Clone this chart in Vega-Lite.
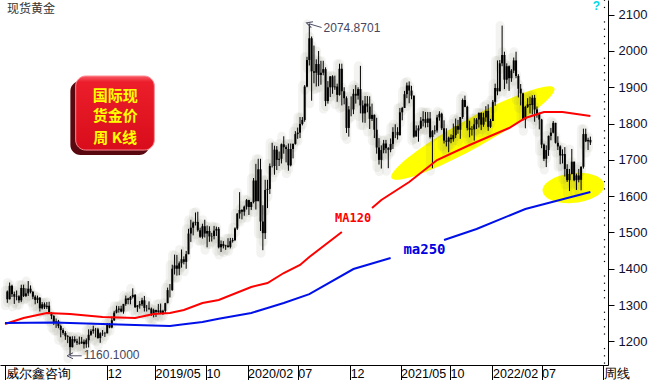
{
  "$schema": "https://vega.github.io/schema/vega-lite/v6.json",
  "width": 608,
  "height": 365,
  "autosize": "none",
  "padding": {"left": 0, "top": 0, "right": 46, "bottom": 15},
  "background": "white",
  "config": {"view": {"stroke": null}, "axis": {"labelOverlap": false, "grid": false}},
  "datasets": {
    "k": [
      {"d":"2018-02-05","o":1337,"h":1340,"l":1306,"c":1316},
      {"d":"2018-02-12","o":1316,"h":1362,"l":1315,"c":1353},
      {"d":"2018-02-19","o":1353,"h":1356,"l":1322,"c":1330},
      {"d":"2018-02-26","o":1330,"h":1337,"l":1303,"c":1323},
      {"d":"2018-03-05","o":1323,"h":1340,"l":1313,"c":1324},
      {"d":"2018-03-12","o":1324,"h":1327,"l":1306,"c":1313},
      {"d":"2018-03-19","o":1313,"h":1356,"l":1308,"c":1347},
      {"d":"2018-03-26","o":1347,"h":1356,"l":1322,"c":1325},
      {"d":"2018-04-02","o":1325,"h":1346,"l":1322,"c":1332},
      {"d":"2018-04-09","o":1332,"h":1366,"l":1325,"c":1345},
      {"d":"2018-04-16","o":1345,"h":1354,"l":1332,"c":1336},
      {"d":"2018-04-23","o":1336,"h":1339,"l":1316,"c":1323},
      {"d":"2018-04-30","o":1323,"h":1327,"l":1302,"c":1314},
      {"d":"2018-05-07","o":1314,"h":1326,"l":1305,"c":1320},
      {"d":"2018-05-14","o":1320,"h":1322,"l":1282,"c":1291},
      {"d":"2018-05-21","o":1291,"h":1308,"l":1288,"c":1302},
      {"d":"2018-05-28","o":1302,"h":1307,"l":1289,"c":1294},
      {"d":"2018-06-04","o":1294,"h":1308,"l":1289,"c":1298},
      {"d":"2018-06-11","o":1298,"h":1309,"l":1276,"c":1279},
      {"d":"2018-06-18","o":1279,"h":1280,"l":1261,"c":1270},
      {"d":"2018-06-25","o":1270,"h":1272,"l":1245,"c":1252},
      {"d":"2018-07-02","o":1252,"h":1263,"l":1237,"c":1255},
      {"d":"2018-07-09","o":1255,"h":1259,"l":1236,"c":1242},
      {"d":"2018-07-16","o":1242,"h":1246,"l":1211,"c":1231},
      {"d":"2018-07-23","o":1231,"h":1236,"l":1218,"c":1223},
      {"d":"2018-07-30","o":1223,"h":1228,"l":1204,"c":1214},
      {"d":"2018-08-06","o":1214,"h":1217,"l":1195,"c":1212},
      {"d":"2018-08-13","o":1212,"h":1214,"l":1160.1,"c":1184},
      {"d":"2018-08-20","o":1184,"h":1214,"l":1183,"c":1206},
      {"d":"2018-08-27","o":1206,"h":1214,"l":1196,"c":1200},
      {"d":"2018-09-03","o":1200,"h":1207,"l":1190,"c":1196},
      {"d":"2018-09-10","o":1196,"h":1213,"l":1191,"c":1194},
      {"d":"2018-09-17","o":1194,"h":1212,"l":1193,"c":1199},
      {"d":"2018-09-24","o":1199,"h":1205,"l":1180,"c":1192},
      {"d":"2018-10-01","o":1192,"h":1208,"l":1182,"c":1203},
      {"d":"2018-10-08","o":1203,"h":1233,"l":1183,"c":1218},
      {"d":"2018-10-15","o":1218,"h":1233,"l":1215,"c":1228},
      {"d":"2018-10-22","o":1228,"h":1243,"l":1221,"c":1233},
      {"d":"2018-10-29","o":1233,"h":1237,"l":1211,"c":1233},
      {"d":"2018-11-05","o":1233,"h":1237,"l":1207,"c":1209},
      {"d":"2018-11-12","o":1209,"h":1225,"l":1196,"c":1222},
      {"d":"2018-11-19","o":1222,"h":1231,"l":1215,"c":1223},
      {"d":"2018-11-26","o":1223,"h":1226,"l":1212,"c":1222},
      {"d":"2018-12-03","o":1222,"h":1250,"l":1222,"c":1248},
      {"d":"2018-12-10","o":1248,"h":1250,"l":1236,"c":1238},
      {"d":"2018-12-17","o":1238,"h":1268,"l":1236,"c":1258},
      {"d":"2018-12-24","o":1258,"h":1284,"l":1256,"c":1279},
      {"d":"2018-12-31","o":1279,"h":1298,"l":1277,"c":1287},
      {"d":"2019-01-07","o":1287,"h":1297,"l":1279,"c":1290},
      {"d":"2019-01-14","o":1290,"h":1298,"l":1280,"c":1282},
      {"d":"2019-01-21","o":1282,"h":1303,"l":1276,"c":1303},
      {"d":"2019-01-28","o":1303,"h":1326,"l":1298,"c":1318},
      {"d":"2019-02-04","o":1318,"h":1320,"l":1302,"c":1314},
      {"d":"2019-02-11","o":1314,"h":1325,"l":1302,"c":1322},
      {"d":"2019-02-18","o":1322,"h":1346,"l":1318,"c":1328},
      {"d":"2019-02-25","o":1328,"h":1330,"l":1292,"c":1294},
      {"d":"2019-03-04","o":1294,"h":1300,"l":1281,"c":1299},
      {"d":"2019-03-11","o":1299,"h":1311,"l":1290,"c":1302},
      {"d":"2019-03-18","o":1302,"h":1320,"l":1297,"c":1313},
      {"d":"2019-03-25","o":1313,"h":1325,"l":1282,"c":1292},
      {"d":"2019-04-01","o":1292,"h":1300,"l":1282,"c":1292},
      {"d":"2019-04-08","o":1292,"h":1310,"l":1286,"c":1290},
      {"d":"2019-04-15","o":1290,"h":1293,"l":1270,"c":1276},
      {"d":"2019-04-22","o":1276,"h":1290,"l":1266,"c":1286},
      {"d":"2019-04-29","o":1286,"h":1287,"l":1267,"c":1281},
      {"d":"2019-05-06","o":1281,"h":1303,"l":1278,"c":1285},
      {"d":"2019-05-13","o":1285,"h":1304,"l":1275,"c":1277},
      {"d":"2019-05-20","o":1277,"h":1287,"l":1273,"c":1284},
      {"d":"2019-05-27","o":1284,"h":1306,"l":1278,"c":1305},
      {"d":"2019-06-03","o":1305,"h":1348,"l":1305,"c":1341},
      {"d":"2019-06-10","o":1341,"h":1358,"l":1321,"c":1341},
      {"d":"2019-06-17","o":1341,"h":1411,"l":1339,"c":1400},
      {"d":"2019-06-24","o":1400,"h":1439,"l":1384,"c":1409},
      {"d":"2019-07-01","o":1409,"h":1438,"l":1381,"c":1400},
      {"d":"2019-07-08","o":1400,"h":1420,"l":1382,"c":1415},
      {"d":"2019-07-15","o":1415,"h":1453,"l":1403,"c":1426},
      {"d":"2019-07-22","o":1426,"h":1434,"l":1412,"c":1419},
      {"d":"2019-07-29","o":1419,"h":1449,"l":1400,"c":1440},
      {"d":"2019-08-05","o":1440,"h":1510,"l":1440,"c":1497},
      {"d":"2019-08-12","o":1497,"h":1535,"l":1474,"c":1513},
      {"d":"2019-08-19","o":1513,"h":1530,"l":1492,"c":1527},
      {"d":"2019-08-26","o":1527,"h":1555,"l":1519,"c":1529},
      {"d":"2019-09-02","o":1529,"h":1557,"l":1502,"c":1506},
      {"d":"2019-09-09","o":1506,"h":1513,"l":1485,"c":1488},
      {"d":"2019-09-16","o":1488,"h":1524,"l":1483,"c":1517},
      {"d":"2019-09-23","o":1517,"h":1535,"l":1486,"c":1497},
      {"d":"2019-09-30","o":1497,"h":1519,"l":1459,"c":1504},
      {"d":"2019-10-07","o":1504,"h":1517,"l":1474,"c":1489},
      {"d":"2019-10-14","o":1489,"h":1499,"l":1475,"c":1490},
      {"d":"2019-10-21","o":1490,"h":1518,"l":1481,"c":1505},
      {"d":"2019-10-28","o":1505,"h":1516,"l":1490,"c":1510},
      {"d":"2019-11-04","o":1510,"h":1515,"l":1456,"c":1459},
      {"d":"2019-11-11","o":1459,"h":1478,"l":1446,"c":1468},
      {"d":"2019-11-18","o":1468,"h":1476,"l":1456,"c":1462},
      {"d":"2019-11-25","o":1462,"h":1466,"l":1452,"c":1464},
      {"d":"2019-12-02","o":1464,"h":1484,"l":1458,"c":1460},
      {"d":"2019-12-09","o":1460,"h":1485,"l":1456,"c":1476},
      {"d":"2019-12-16","o":1476,"h":1485,"l":1472,"c":1479},
      {"d":"2019-12-23","o":1479,"h":1514,"l":1476,"c":1511},
      {"d":"2019-12-30","o":1511,"h":1553,"l":1507,"c":1552},
      {"d":"2020-01-06","o":1552,"h":1611,"l":1538,"c":1562},
      {"d":"2020-01-13","o":1562,"h":1564,"l":1536,"c":1557},
      {"d":"2020-01-20","o":1557,"h":1574,"l":1546,"c":1571},
      {"d":"2020-01-27","o":1571,"h":1592,"l":1563,"c":1589},
      {"d":"2020-02-03","o":1589,"h":1590,"l":1548,"c":1570},
      {"d":"2020-02-10","o":1570,"h":1584,"l":1562,"c":1584},
      {"d":"2020-02-17","o":1584,"h":1650,"l":1580,"c":1643},
      {"d":"2020-02-24","o":1643,"h":1689,"l":1563,"c":1586},
      {"d":"2020-03-02","o":1586,"h":1703,"l":1586,"c":1674},
      {"d":"2020-03-09","o":1674,"h":1703,"l":1504,"c":1530},
      {"d":"2020-03-16","o":1530,"h":1575,"l":1451,"c":1498},
      {"d":"2020-03-23","o":1498,"h":1645,"l":1482,"c":1617},
      {"d":"2020-03-30","o":1617,"h":1645,"l":1567,"c":1620},
      {"d":"2020-04-06","o":1620,"h":1690,"l":1606,"c":1683},
      {"d":"2020-04-13","o":1683,"h":1747,"l":1679,"c":1683},
      {"d":"2020-04-20","o":1683,"h":1739,"l":1659,"c":1728},
      {"d":"2020-04-27","o":1728,"h":1738,"l":1672,"c":1700},
      {"d":"2020-05-04","o":1700,"h":1723,"l":1683,"c":1703},
      {"d":"2020-05-11","o":1703,"h":1745,"l":1690,"c":1743},
      {"d":"2020-05-18","o":1743,"h":1765,"l":1717,"c":1735},
      {"d":"2020-05-25","o":1735,"h":1740,"l":1693,"c":1730},
      {"d":"2020-06-01","o":1730,"h":1745,"l":1670,"c":1685},
      {"d":"2020-06-08","o":1685,"h":1745,"l":1682,"c":1730},
      {"d":"2020-06-15","o":1730,"h":1745,"l":1704,"c":1744},
      {"d":"2020-06-22","o":1744,"h":1779,"l":1742,"c":1771},
      {"d":"2020-06-29","o":1771,"h":1789,"l":1758,"c":1775},
      {"d":"2020-07-06","o":1775,"h":1818,"l":1760,"c":1799},
      {"d":"2020-07-13","o":1799,"h":1818,"l":1795,"c":1810},
      {"d":"2020-07-20","o":1810,"h":1906,"l":1805,"c":1902},
      {"d":"2020-07-27","o":1902,"h":1984,"l":1900,"c":1975},
      {"d":"2020-08-03","o":1975,"h":2074.87,"l":1960,"c":2035},
      {"d":"2020-08-10","o":2035,"h":2040,"l":1863,"c":1944},
      {"d":"2020-08-17","o":1944,"h":2015,"l":1911,"c":1940},
      {"d":"2020-08-24","o":1940,"h":1977,"l":1902,"c":1964},
      {"d":"2020-08-31","o":1964,"h":2000,"l":1903,"c":1934},
      {"d":"2020-09-07","o":1934,"h":1973,"l":1907,"c":1940},
      {"d":"2020-09-14","o":1940,"h":1973,"l":1933,"c":1950},
      {"d":"2020-09-21","o":1950,"h":1955,"l":1848,"c":1862},
      {"d":"2020-09-28","o":1862,"h":1917,"l":1855,"c":1900},
      {"d":"2020-10-05","o":1900,"h":1931,"l":1873,"c":1930},
      {"d":"2020-10-12","o":1930,"h":1933,"l":1882,"c":1900},
      {"d":"2020-10-19","o":1900,"h":1932,"l":1893,"c":1902},
      {"d":"2020-10-26","o":1902,"h":1910,"l":1860,"c":1879},
      {"d":"2020-11-02","o":1879,"h":1965,"l":1877,"c":1951},
      {"d":"2020-11-09","o":1951,"h":1965,"l":1850,"c":1889},
      {"d":"2020-11-16","o":1889,"h":1900,"l":1853,"c":1870},
      {"d":"2020-11-23","o":1870,"h":1875,"l":1774,"c":1788},
      {"d":"2020-11-30","o":1788,"h":1848,"l":1764,"c":1839},
      {"d":"2020-12-07","o":1839,"h":1875,"l":1820,"c":1839},
      {"d":"2020-12-14","o":1839,"h":1895,"l":1826,"c":1882},
      {"d":"2020-12-21","o":1882,"h":1906,"l":1855,"c":1877},
      {"d":"2020-12-28","o":1877,"h":1900,"l":1866,"c":1895},
      {"d":"2021-01-04","o":1895,"h":1959,"l":1828,"c":1850},
      {"d":"2021-01-11","o":1850,"h":1864,"l":1803,"c":1828},
      {"d":"2021-01-18","o":1828,"h":1876,"l":1802,"c":1855},
      {"d":"2021-01-25","o":1855,"h":1876,"l":1831,"c":1847},
      {"d":"2021-02-01","o":1847,"h":1875,"l":1785,"c":1813},
      {"d":"2021-02-08","o":1813,"h":1855,"l":1807,"c":1824},
      {"d":"2021-02-15","o":1824,"h":1825,"l":1760,"c":1783},
      {"d":"2021-02-22","o":1783,"h":1816,"l":1717,"c":1734},
      {"d":"2021-03-01","o":1734,"h":1760,"l":1687,"c":1700},
      {"d":"2021-03-08","o":1700,"h":1740,"l":1676,"c":1727},
      {"d":"2021-03-15","o":1727,"h":1755,"l":1718,"c":1745},
      {"d":"2021-03-22","o":1745,"h":1755,"l":1718,"c":1732},
      {"d":"2021-03-29","o":1732,"h":1735,"l":1677,"c":1728},
      {"d":"2021-04-05","o":1728,"h":1759,"l":1721,"c":1744},
      {"d":"2021-04-12","o":1744,"h":1790,"l":1730,"c":1777},
      {"d":"2021-04-19","o":1777,"h":1798,"l":1760,"c":1777},
      {"d":"2021-04-26","o":1777,"h":1790,"l":1756,"c":1768},
      {"d":"2021-05-03","o":1768,"h":1843,"l":1767,"c":1831},
      {"d":"2021-05-10","o":1831,"h":1846,"l":1809,"c":1843},
      {"d":"2021-05-17","o":1843,"h":1890,"l":1843,"c":1881},
      {"d":"2021-05-24","o":1881,"h":1913,"l":1870,"c":1905},
      {"d":"2021-05-31","o":1905,"h":1916,"l":1856,"c":1891},
      {"d":"2021-06-07","o":1891,"h":1904,"l":1867,"c":1877},
      {"d":"2021-06-14","o":1877,"h":1877,"l":1761,"c":1764},
      {"d":"2021-06-21","o":1764,"h":1795,"l":1765,"c":1781},
      {"d":"2021-06-28","o":1781,"h":1795,"l":1750,"c":1787},
      {"d":"2021-07-05","o":1787,"h":1818,"l":1785,"c":1808},
      {"d":"2021-07-12","o":1808,"h":1834,"l":1792,"c":1812},
      {"d":"2021-07-19","o":1812,"h":1832,"l":1789,"c":1802},
      {"d":"2021-07-26","o":1802,"h":1832,"l":1790,"c":1814},
      {"d":"2021-08-02","o":1814,"h":1832,"l":1759,"c":1763},
      {"d":"2021-08-09","o":1763,"h":1782,"l":1677,"c":1779},
      {"d":"2021-08-16","o":1779,"h":1795,"l":1770,"c":1781},
      {"d":"2021-08-23","o":1781,"h":1824,"l":1775,"c":1817},
      {"d":"2021-08-30","o":1817,"h":1834,"l":1808,"c":1827},
      {"d":"2021-09-06","o":1827,"h":1830,"l":1782,"c":1787},
      {"d":"2021-09-13","o":1787,"h":1809,"l":1745,"c":1753},
      {"d":"2021-09-20","o":1753,"h":1787,"l":1737,"c":1750},
      {"d":"2021-09-27","o":1750,"h":1764,"l":1721,"c":1761},
      {"d":"2021-10-04","o":1761,"h":1770,"l":1746,"c":1757},
      {"d":"2021-10-11","o":1757,"h":1800,"l":1750,"c":1768},
      {"d":"2021-10-18","o":1768,"h":1814,"l":1760,"c":1793},
      {"d":"2021-10-25","o":1793,"h":1810,"l":1772,"c":1783},
      {"d":"2021-11-01","o":1783,"h":1818,"l":1758,"c":1818},
      {"d":"2021-11-08","o":1818,"h":1869,"l":1813,"c":1865},
      {"d":"2021-11-15","o":1865,"h":1877,"l":1845,"c":1846},
      {"d":"2021-11-22","o":1846,"h":1849,"l":1781,"c":1788},
      {"d":"2021-11-29","o":1788,"h":1808,"l":1762,"c":1783},
      {"d":"2021-12-06","o":1783,"h":1793,"l":1767,"c":1784},
      {"d":"2021-12-13","o":1784,"h":1815,"l":1753,"c":1798},
      {"d":"2021-12-20","o":1798,"h":1815,"l":1785,"c":1811},
      {"d":"2021-12-27","o":1811,"h":1831,"l":1789,"c":1829},
      {"d":"2022-01-03","o":1829,"h":1831,"l":1782,"c":1797},
      {"d":"2022-01-10","o":1797,"h":1830,"l":1791,"c":1817},
      {"d":"2022-01-17","o":1817,"h":1848,"l":1805,"c":1835},
      {"d":"2022-01-24","o":1835,"h":1853,"l":1780,"c":1791},
      {"d":"2022-01-31","o":1791,"h":1813,"l":1788,"c":1807},
      {"d":"2022-02-07","o":1807,"h":1865,"l":1807,"c":1860},
      {"d":"2022-02-14","o":1860,"h":1910,"l":1849,"c":1898},
      {"d":"2022-02-21","o":1898,"h":1974,"l":1878,"c":1889},
      {"d":"2022-02-28","o":1889,"h":1975,"l":1889,"c":1966},
      {"d":"2022-03-07","o":1966,"h":2070,"l":1958,"c":1989},
      {"d":"2022-03-14","o":1989,"h":1998,"l":1895,"c":1921},
      {"d":"2022-03-21","o":1921,"h":1966,"l":1910,"c":1958},
      {"d":"2022-03-28","o":1958,"h":1960,"l":1890,"c":1925},
      {"d":"2022-04-04","o":1925,"h":1950,"l":1915,"c":1946},
      {"d":"2022-04-11","o":1946,"h":1982,"l":1939,"c":1974},
      {"d":"2022-04-18","o":1974,"h":1998,"l":1925,"c":1931},
      {"d":"2022-04-25","o":1931,"h":1936,"l":1872,"c":1896},
      {"d":"2022-05-02","o":1896,"h":1909,"l":1850,"c":1883},
      {"d":"2022-05-09","o":1883,"h":1885,"l":1808,"c":1811},
      {"d":"2022-05-16","o":1811,"h":1849,"l":1787,"c":1846},
      {"d":"2022-05-23","o":1846,"h":1870,"l":1843,"c":1853},
      {"d":"2022-05-30","o":1853,"h":1874,"l":1828,"c":1851},
      {"d":"2022-06-06","o":1851,"h":1878,"l":1825,"c":1871},
      {"d":"2022-06-13","o":1871,"h":1879,"l":1805,"c":1839},
      {"d":"2022-06-20","o":1839,"h":1847,"l":1816,"c":1826},
      {"d":"2022-06-27","o":1826,"h":1830,"l":1784,"c":1811},
      {"d":"2022-07-04","o":1811,"h":1813,"l":1732,"c":1742},
      {"d":"2022-07-11","o":1742,"h":1745,"l":1697,"c":1703},
      {"d":"2022-07-18","o":1703,"h":1740,"l":1680,"c":1727},
      {"d":"2022-07-25","o":1727,"h":1767,"l":1711,"c":1766},
      {"d":"2022-08-01","o":1766,"h":1788,"l":1754,"c":1775},
      {"d":"2022-08-08","o":1775,"h":1807,"l":1773,"c":1802},
      {"d":"2022-08-15","o":1802,"h":1802,"l":1745,"c":1747},
      {"d":"2022-08-22","o":1747,"h":1765,"l":1727,"c":1737},
      {"d":"2022-08-29","o":1737,"h":1740,"l":1688,"c":1712},
      {"d":"2022-09-05","o":1712,"h":1729,"l":1690,"c":1716},
      {"d":"2022-09-12","o":1716,"h":1735,"l":1654,"c":1675},
      {"d":"2022-09-19","o":1675,"h":1688,"l":1639,"c":1644},
      {"d":"2022-09-26","o":1644,"h":1675,"l":1614,"c":1661},
      {"d":"2022-10-03","o":1661,"h":1730,"l":1660,"c":1695},
      {"d":"2022-10-10","o":1695,"h":1695,"l":1641,"c":1644},
      {"d":"2022-10-17","o":1644,"h":1662,"l":1617,"c":1657},
      {"d":"2022-10-24","o":1657,"h":1675,"l":1638,"c":1645},
      {"d":"2022-10-31","o":1645,"h":1682,"l":1616,"c":1681},
      {"d":"2022-11-07","o":1681,"h":1786,"l":1676,"c":1771},
      {"d":"2022-11-14","o":1771,"h":1786,"l":1749,"c":1751},
      {"d":"2022-11-21","o":1751,"h":1761,"l":1727,"c":1755},
      {"d":"2022-11-28","o":1755,"h":1764,"l":1741,"c":1748}
    ],
    "ma": [
      {"d":"2018-01-29","v":1247.7,"line":"MA120","seg":"r1"},
      {"d":"2018-03-26","v":1264.2,"line":"MA120","seg":"r1"},
      {"d":"2018-06-04","v":1278.0,"line":"MA120","seg":"r1"},
      {"d":"2018-08-13","v":1275.2,"line":"MA120","seg":"r1"},
      {"d":"2018-11-19","v":1267.0,"line":"MA120","seg":"r1"},
      {"d":"2019-02-25","v":1264.2,"line":"MA120","seg":"r1"},
      {"d":"2019-04-22","v":1275.2,"line":"MA120","seg":"r1"},
      {"d":"2019-06-10","v":1278.0,"line":"MA120","seg":"r1"},
      {"d":"2019-07-22","v":1286.3,"line":"MA120","seg":"r1"},
      {"d":"2019-09-16","v":1305.5,"line":"MA120","seg":"r1"},
      {"d":"2019-11-04","v":1313.8,"line":"MA120","seg":"r1"},
      {"d":"2020-02-10","v":1349.6,"line":"MA120","seg":"r1"},
      {"d":"2020-03-30","v":1360.7,"line":"MA120","seg":"r1"},
      {"d":"2020-05-18","v":1388.2,"line":"MA120","seg":"r1"},
      {"d":"2020-07-06","v":1410.3,"line":"MA120","seg":"r1"},
      {"d":"2020-08-03","v":1432.3,"line":"MA120","seg":"r1"},
      {"d":"2020-11-09","v":1501.2,"line":"MA120","seg":"r1"},
      {"d":"2021-02-08","v":1567.3,"line":"MA120","seg":"r2"},
      {"d":"2021-03-08","v":1589.4,"line":"MA120","seg":"r2"},
      {"d":"2021-05-31","v":1639.0,"line":"MA120","seg":"r2"},
      {"d":"2021-08-23","v":1699.6,"line":"MA120","seg":"r2"},
      {"d":"2021-11-29","v":1741.0,"line":"MA120","seg":"r2"},
      {"d":"2022-02-21","v":1774.0,"line":"MA120","seg":"r2"},
      {"d":"2022-03-28","v":1787.8,"line":"MA120","seg":"r2"},
      {"d":"2022-05-16","v":1815.3,"line":"MA120","seg":"r2"},
      {"d":"2022-07-11","v":1831.9,"line":"MA120","seg":"r2"},
      {"d":"2022-09-05","v":1831.9,"line":"MA120","seg":"r2"},
      {"d":"2022-11-28","v":1820.9,"line":"MA120","seg":"r2"},
      {"d":"2018-01-29","v":1250.4,"line":"MA250","seg":"b1"},
      {"d":"2018-06-25","v":1252.0,"line":"MA250","seg":"b1"},
      {"d":"2018-11-19","v":1247.7,"line":"MA250","seg":"b1"},
      {"d":"2019-02-25","v":1244.9,"line":"MA250","seg":"b1"},
      {"d":"2019-06-10","v":1242.2,"line":"MA250","seg":"b1"},
      {"d":"2019-07-22","v":1247.0,"line":"MA250","seg":"b1"},
      {"d":"2019-09-16","v":1253.0,"line":"MA250","seg":"b1"},
      {"d":"2019-11-04","v":1262.0,"line":"MA250","seg":"b1"},
      {"d":"2020-02-10","v":1278.0,"line":"MA250","seg":"b1"},
      {"d":"2020-03-30","v":1291.8,"line":"MA250","seg":"b1"},
      {"d":"2020-05-18","v":1305.5,"line":"MA250","seg":"b1"},
      {"d":"2020-08-03","v":1330.0,"line":"MA250","seg":"b1"},
      {"d":"2020-12-14","v":1399.2,"line":"MA250","seg":"b1"},
      {"d":"2021-04-05","v":1429.6,"line":"MA250","seg":"b1"},
      {"d":"2021-09-13","v":1479.2,"line":"MA250","seg":"b2"},
      {"d":"2021-12-20","v":1509.5,"line":"MA250","seg":"b2"},
      {"d":"2022-05-16","v":1564.6,"line":"MA250","seg":"b2"},
      {"d":"2022-11-28","v":1611.4,"line":"MA250","seg":"b2"}
    ],
    "minor": [
      {"v":1140},{"v":1160},{"v":1180},{"v":1220},{"v":1240},{"v":1260},{"v":1280},
      {"v":1320},{"v":1340},{"v":1360},{"v":1380},{"v":1420},{"v":1440},{"v":1460},{"v":1480},
      {"v":1520},{"v":1540},{"v":1560},{"v":1580},{"v":1620},{"v":1640},{"v":1660},{"v":1680},
      {"v":1720},{"v":1740},{"v":1760},{"v":1780},{"v":1820},{"v":1840},{"v":1860},{"v":1880},
      {"v":1920},{"v":1940},{"v":1960},{"v":1980},{"v":2020},{"v":2040},{"v":2060},{"v":2080},
      {"v":2120},{"v":2140}
    ]
  },
  "layer": [
    {
      "data": {"values": [{"d":"2021-12-09","v":1774.0}]},
      "mark": {"type":"point","filled":true,"color":"#ffff00","opacity":1,"size":34596,"angle":331,
        "shape":"M-1,0C-1,-0.0862,-0.5523,-0.156,0,-0.156C0.5523,-0.156,1,-0.0862,1,0C1,0.0862,0.5523,0.156,0,0.156C-0.5523,0.156,-1,0.0862,-1,0Z"},
      "encoding": {
        "x": {"field":"d","type":"temporal","title":null,"scale":{"domain":[{"year":2018,"month":1,"date":29,"utc":true},{"year":2023,"month":1,"date":5,"utc":true}]}},
        "y": {"field":"v","type":"quantitative","title":null,"scale":{"domain":[1134.7,2140.5],"nice":false,"zero":false}}
      }
    },
    {
      "data": {"values": [{"d":"2022-10-08","v":1622.4}]},
      "mark": {"type":"point","filled":true,"color":"#ffff00","opacity":1,"size":3844,"angle":354,
        "shape":"M-1,0C-1,-0.2651,-0.5523,-0.48,0,-0.48C0.5523,-0.48,1,-0.2651,1,0C1,0.2651,0.5523,0.48,0,0.48C-0.5523,0.48,-1,0.2651,-1,0Z"},
      "encoding": {
        "x": {"field":"d","type":"temporal","title":null},
        "y": {"field":"v","type":"quantitative","title":null}
      }
    },
    {
      "data": {"name": "k"},
      "mark": {"type":"rule","color":"#7a7a68","strokeWidth":9,"strokeCap":"round","opacity":0.09,"xOffset":-2,"yOffset":3},
      "encoding": {
        "x": {"field":"d","type":"temporal","title":null},
        "y": {"field":"l","type":"quantitative","title":null},
        "y2": {"field":"h"}
      }
    },
    {
      "data": {"name": "k"},
      "mark": {"type":"rule","color":"#000000","strokeWidth":1},
      "encoding": {
        "x": {"field":"d","type":"temporal","title":null,
          "axis": {
            "values": [
              {"year":2018,"month":1,"date":29,"utc":true},
              {"year":2018,"month":12,"date":3,"utc":true},
              {"year":2019,"month":4,"date":26,"utc":true},
              {"year":2019,"month":9,"date":27,"utc":true},
              {"year":2020,"month":1,"date":30,"utc":true},
              {"year":2020,"month":6,"date":29,"utc":true},
              {"year":2020,"month":12,"date":4,"utc":true},
              {"year":2021,"month":5,"date":5,"utc":true},
              {"year":2021,"month":10,"date":1,"utc":true},
              {"year":2022,"month":2,"date":6,"utc":true},
              {"year":2022,"month":7,"date":4,"utc":true},
              {"year":2023,"month":1,"date":5,"utc":true}
            ],
            "labelExpr": "({'2018-01-29':'威尔鑫咨询','2018-12-03':'12','2019-04-26':'2019/05','2019-09-27':'10','2020-01-30':'2020/02','2020-06-29':'07','2020-12-04':'12','2021-05-05':'2021/05','2021-10-01':'10','2022-02-06':'2022/02','2022-07-04':'07','2023-01-05':'周线'})[utcFormat(datum.value,'%Y-%m-%d')]",
            "tickSize": 15, "tickColor": "#000000", "tickWidth": 1,
            "domainColor": "#000000", "domainWidth": 1,
            "labelAlign": "left", "labelBaseline": "top", "labelPadding": -13, "labelDx": 2,
            "labelFont": "Liberation Sans", "labelFontSize": 12.5, "labelColor": "#000000",
            "labelOverlap": false, "labelFlush": false, "grid": false
          }
        },
        "y": {"field":"l","type":"quantitative","title":null,
          "axis": {
            "orient": "right",
            "values": [1200,1300,1400,1500,1600,1700,1800,1900,2000,2100],
            "format": "d",
            "tickSize": 6, "tickColor": "#000000",
            "domainColor": "#000000",
            "labelPadding": 4, "labelFont": "Liberation Sans", "labelFontSize": 13, "labelColor": "#101030",
            "labelOverlap": false, "labelFlush": false, "grid": false
          }
        },
        "y2": {"field":"h"}
      }
    },
    {
      "data": {"name": "k"},
      "mark": {"type":"bar","color":"#000000","width":2},
      "encoding": {
        "x": {"field":"d","type":"temporal","title":null},
        "y": {"field":"o","type":"quantitative","title":null},
        "y2": {"field":"c"}
      }
    },
    {
      "data": {"name": "minor"},
      "mark": {"type":"square","color":"#000000","size":1.5,"opacity":1,"xOffset":1.5},
      "encoding": {
        "x": {"datum": {"year":2023,"month":1,"date":5,"utc":true},"type":"temporal"},
        "y": {"field":"v","type":"quantitative","title":null}
      }
    },
    {
      "data": {"name": "ma"},
      "mark": {"type":"line","strokeWidth":2},
      "encoding": {
        "x": {"field":"d","type":"temporal","title":null},
        "y": {"field":"v","type":"quantitative","title":null},
        "color": {"field":"line","type":"nominal","legend":null,"scale":{"domain":["MA120","MA250"],"range":["#ff0000","#0010e8"]}},
        "detail": {"field":"seg"}
      }
    },
    {
      "data": {"values": [{"d":"2020-12-13","v":1540.6,"t":"MA120"}]},
      "mark": {"type":"text","color":"#ff0000","font":"DejaVu Sans Mono","fontWeight":"bold","fontSize":12,"align":"center","baseline":"middle"},
      "encoding": {
        "x": {"field":"d","type":"temporal","title":null},
        "y": {"field":"v","type":"quantitative","title":null},
        "text": {"field":"t"}
      }
    },
    {
      "data": {"values": [{"d":"2021-07-16","v":1451.6,"t":"ma250"}]},
      "mark": {"type":"text","color":"#0000e0","font":"DejaVu Sans Mono","fontWeight":"bold","fontSize":14,"align":"center","baseline":"middle"},
      "encoding": {
        "x": {"field":"d","type":"temporal","title":null},
        "y": {"field":"v","type":"quantitative","title":null},
        "text": {"field":"t"}
      }
    },
    {
      "data": {"values": [
        {"d":"2020-08-03","v":2074.87,"d2":"2020-09-09","v2":2064.7},
        {"d":"2018-08-13","v":1160.1,"d2":"2018-09-17","v2":1160.1}
      ]},
      "mark": {"type":"rule","color":"#505068","strokeWidth":1},
      "encoding": {
        "x": {"field":"d","type":"temporal","title":null},
        "x2": {"field":"d2"},
        "y": {"field":"v","type":"quantitative","title":null},
        "y2": {"field":"v2"}
      }
    },
    {
      "data": {"values": [{"d":"2020-08-03","v":2074.87}]},
      "mark": {"type":"point","shape":"M1,-1L-1,0L1,1","filled":false,"color":"#505068","strokeWidth":1,"size":36,"angle":17,"opacity":1},
      "encoding": {
        "x": {"field":"d","type":"temporal","title":null},
        "y": {"field":"v","type":"quantitative","title":null}
      }
    },
    {
      "data": {"values": [{"d":"2018-08-13","v":1160.1}]},
      "mark": {"type":"point","shape":"M1,-1L-1,0L1,1","filled":false,"color":"#505068","strokeWidth":1,"size":36,"angle":0,"opacity":1},
      "encoding": {
        "x": {"field":"d","type":"temporal","title":null},
        "y": {"field":"v","type":"quantitative","title":null}
      }
    },
    {
      "data": {"values": [
        {"d":"2020-09-15","v":2063.3,"t":"2074.8701"},
        {"d":"2018-09-23","v":1161.0,"t":"1160.1000"}
      ]},
      "mark": {"type":"text","color":"#46465e","font":"Liberation Sans","fontSize":12,"align":"left","baseline":"middle"},
      "encoding": {
        "x": {"field":"d","type":"temporal","title":null},
        "y": {"field":"v","type":"quantitative","title":null},
        "text": {"field":"t"}
      }
    },
    {
      "data": {"values": [{"d":"2018-02-04","v":2117,"t":"现货黄金"}]},
      "mark": {"type":"text","color":"#333333","font":"Noto Sans CJK SC","fontSize":12,"align":"left","baseline":"middle"},
      "encoding": {
        "x": {"field":"d","type":"temporal","title":null},
        "y": {"field":"v","type":"quantitative","title":null},
        "text": {"field":"t"}
      }
    },
    {
      "data": {"values": [{"d":"2022-12-16","v":2124,"t":"?"}]},
      "mark": {"type":"text","color":"#00d8e8","font":"Liberation Sans","fontWeight":"bold","fontSize":12,"align":"center","baseline":"middle"},
      "encoding": {
        "x": {"field":"d","type":"temporal","title":null},
        "y": {"field":"v","type":"quantitative","title":null},
        "text": {"field":"t"}
      }
    },
    {
      "data": {"values": [{"d":"2018-08-14","d2":"2019-04-09","v":1917.3,"v2":1713.4}]},
      "mark": {"type":"rect","color":"#5a0810","cornerRadius":10},
      "encoding": {
        "x": {"field":"d","type":"temporal","title":null},
        "x2": {"field":"d2"},
        "y": {"field":"v","type":"quantitative","title":null},
        "y2": {"field":"v2"}
      }
    },
    {
      "data": {"values": [{"d":"2018-08-30","d2":"2019-04-24","v":1931,"v2":1727}]},
      "mark": {"type":"rect","cornerRadius":10,"stroke":"#ff8a92","strokeWidth":1,
        "fill": {"gradient":"linear","x1":0,"y1":0,"x2":0,"y2":1,"stops":[{"offset":0,"color":"#f85a66"},{"offset":0.08,"color":"#ec1e2c"},{"offset":1,"color":"#d80c1a"}]}},
      "encoding": {
        "x": {"field":"d","type":"temporal","title":null},
        "x2": {"field":"d2"},
        "y": {"field":"v","type":"quantitative","title":null},
        "y2": {"field":"v2"}
      }
    },
    {
      "data": {"values": [
        {"d":"2018-12-27","v":1877.3,"t":"国际现"},
        {"d":"2018-12-27","v":1819.5,"t":"货金价"},
        {"d":"2018-12-27","v":1761.6,"t":"周  K线"}
      ]},
      "mark": {"type":"text","color":"#ffff00","font":"Noto Sans CJK SC","fontWeight":"bold","fontSize":15,"align":"center","baseline":"middle"},
      "encoding": {
        "x": {"field":"d","type":"temporal","title":null},
        "y": {"field":"v","type":"quantitative","title":null},
        "text": {"field":"t"}
      }
    }
  ]
}
